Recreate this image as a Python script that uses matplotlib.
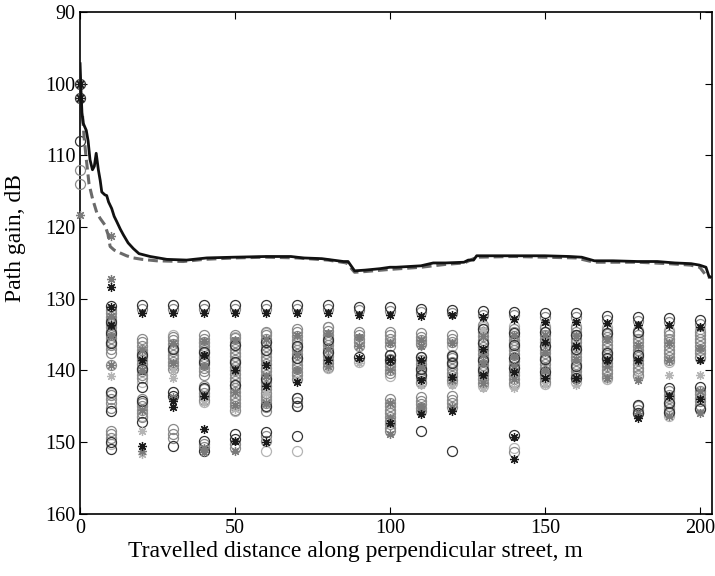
import matplotlib
matplotlib.use("Agg")
import matplotlib.pyplot as plt

# ---------------- data ----------------
black_x = [0, 0.3, 0.6, 1.0, 1.5, 2.0, 2.6, 3.2, 4.0, 4.6,
           5.2, 5.9, 6.5, 7.0, 8.0, 8.6, 9.2, 10.2, 11.0, 11.8,
           13.0, 14.0, 15.5, 17.2, 19.0, 22.6, 28, 34.4, 40.9, 49.5,
           60, 68, 72, 78, 85, 86.5, 88.6, 92, 96.8, 100,
           102, 106, 110, 114, 118, 123.9, 125.3, 127, 128, 135,
           142.9, 150, 158, 161.9, 166, 172, 180, 186.3, 192, 197.2,
           199.9, 202, 203, 204]
black_y = [97.2, 101, 104, 105.5, 106, 106.5, 108, 110.6, 112, 111.5,
           109.7, 112, 113.5, 115.1, 115.5, 115.6, 116.5, 117.4, 118.5, 119.2,
           120.3, 121.1, 122.2, 123.0, 123.7, 124.1, 124.5, 124.6, 124.3, 124.2,
           124.1, 124.1, 124.3, 124.4, 124.8, 124.8, 126.1, 126.0, 125.8, 125.6,
           125.6, 125.5, 125.4, 125.0, 125.0, 124.9, 124.6, 124.6, 124.0, 124.0,
           124.0, 124.0, 124.1, 124.2, 124.7, 124.7, 124.8, 124.8, 125.0, 125.1,
           125.3, 125.6, 126.9, 127.0]

dash_x = [0.8, 1.3, 2.0, 2.9, 4.0, 5.4, 6.5, 8.0, 9.0, 9.7,
          11.0, 12.9, 15.0, 17.2, 20, 24.7, 33.3, 40, 50, 60,
          70, 80, 86, 88.6, 92, 100, 110, 118, 124, 128,
          140, 160, 166, 180, 190, 197, 200, 202.5, 204]
dash_y = [104.5, 107.5, 110.5, 114, 116, 118, 118.8, 119.7, 121.0, 122.7,
          123.2, 123.6, 124.0, 124.3, 124.5, 124.7, 124.8, 124.5, 124.3, 124.2,
          124.3, 124.6, 125.0, 126.3, 126.2, 125.9, 125.6, 125.2, 125.0, 124.2,
          124.1, 124.3, 124.9, 124.9, 125.1, 125.3, 125.6, 127.0, 127.0]

positions = [0, 10, 20, 30, 40, 50, 60, 70, 80, 90, 100,
             110, 120, 130, 140, 150, 160, 170, 180, 190, 200]

# circles: dark / gray / light, per position
circ_dark = [
    [100, 102, 108],
    [131.0, 133.2, 134.8, 136.2, 143.0, 145.6, 150.0, 151.0],
    [130.9, 137.8, 139.8, 142.3, 144.2, 147.2],
    [130.9, 137.0, 143.0, 143.5, 150.5],
    [130.9, 137.4, 138.8, 142.4, 149.8, 151.2],
    [130.9, 136.4, 138.8, 142.0, 148.8, 149.6],
    [130.9, 136.0, 137.2, 141.2, 145.0, 148.6],
    [130.9, 136.6, 138.2, 143.8, 145.0, 149.1],
    [130.9, 135.8, 137.4],
    [131.1, 138.1],
    [131.2, 137.9, 138.6],
    [131.4, 138.1, 139.8, 140.6, 148.4],
    [131.6, 138.0, 139.0, 151.2],
    [131.7, 134.2, 136.2, 138.6, 140.0],
    [131.8, 134.8, 136.4, 138.2, 139.6, 149.0],
    [132.0, 134.6, 136.6, 138.4, 140.2],
    [132.0, 135.0, 137.0, 139.4, 141.0],
    [132.4, 134.8, 137.6, 138.2],
    [132.6, 134.6, 137.8, 144.8, 146.0],
    [132.7, 142.4, 144.6, 145.8],
    [133.0, 142.3, 145.4],
]
circ_gray = [
    [112, 114],
    [131.5, 132.0, 132.5, 133.0, 133.5, 134.0, 134.5, 135.0, 135.5, 136.0,
     136.5, 137.0, 137.5, 139.2, 143.4, 144.0, 144.6, 145.2, 148.4, 148.9,
     149.4],
    [131.4, 135.6, 136.1, 136.6, 137.1, 137.6, 138.1, 138.6, 139.1, 139.6,
     140.1, 140.6, 141.1, 144.0, 144.5, 145.0, 145.5, 146.0, 146.5],
    [131.4, 135.3, 135.8, 136.3, 136.8, 137.3, 137.8, 138.3, 138.8, 139.3,
     139.8, 148.2, 148.8, 149.4],
    [131.4, 135.1, 135.6, 136.1, 136.6, 137.1, 137.6, 138.1, 138.6, 139.1,
     139.6, 140.1, 140.6, 142.1, 142.6, 143.1, 143.6, 144.1, 150.2, 150.7],
    [131.4, 135.0, 135.5, 136.0, 136.5, 137.0, 137.5, 138.0, 138.5, 139.0,
     139.5, 140.0, 140.5, 141.0, 141.5, 142.0, 142.5, 143.0, 143.5, 144.0,
     144.5, 145.0, 145.5, 150.2, 150.8],
    [131.4, 134.6, 135.1, 135.6, 136.1, 136.6, 137.1, 137.6, 138.1, 138.6,
     139.1, 139.6, 140.1, 140.6, 141.1, 141.6, 142.1, 142.6, 143.1, 143.6,
     144.1, 144.6, 145.1, 145.6, 149.2, 149.8],
    [131.4, 134.2, 134.7, 135.2, 135.7, 136.2, 136.7, 137.2, 137.7, 138.2,
     138.7, 139.2, 139.7, 140.2, 140.7, 141.2, 143.8, 144.4, 145.0],
    [131.4, 134.0, 134.5, 135.0, 135.5, 136.0, 136.5, 137.0, 137.5, 138.0,
     138.5, 139.0, 139.5],
    [131.6, 134.6, 135.1, 135.6, 136.1, 136.6],
    [131.7, 134.6, 135.1, 135.6, 136.1, 136.6, 137.9, 138.4, 138.9, 139.4,
     139.9, 140.4, 144.0, 144.5, 145.0, 145.5, 146.0, 146.5, 147.0, 147.5,
     148.0, 148.5],
    [131.9, 134.8, 135.3, 135.8, 136.3, 138.1, 138.6, 139.1, 139.6, 140.1,
     140.6, 141.1, 141.6, 143.7, 144.2, 144.7, 145.2, 145.7],
    [132.0, 135.1, 135.6, 136.1, 137.8, 138.3, 138.8, 139.3, 139.8, 140.3,
     140.8, 141.3, 143.6, 144.1, 144.6, 145.1],
    [132.2, 133.7, 134.2, 134.7, 135.2, 135.7, 136.2, 136.7, 137.2, 137.7,
     138.2, 138.7, 139.2, 139.7, 140.2, 140.7, 141.2, 141.7],
    [132.3, 134.2, 134.7, 135.2, 135.7, 136.2, 136.7, 137.2, 137.7, 138.2,
     138.7, 139.2, 139.7, 140.2, 140.7, 141.2, 141.7, 151.4],
    [132.5, 134.1, 134.6, 135.1, 135.6, 136.1, 136.6, 137.1, 137.6, 138.1,
     138.6, 139.1, 139.6, 140.1, 140.6, 141.1, 141.6],
    [132.5, 134.1, 134.6, 135.1, 135.6, 136.1, 136.6, 137.1, 137.6, 138.1,
     138.6, 139.1, 139.6, 140.1, 140.6, 141.1],
    [132.9, 134.4, 134.9, 135.4, 135.9, 136.4, 136.9, 137.4, 137.9, 138.4,
     138.9, 139.4, 139.9, 140.4, 140.9],
    [133.1, 134.6, 135.1, 135.6, 136.1, 136.6, 137.1, 137.6, 138.1, 138.6,
     139.1, 139.6, 140.1, 140.6, 145.0, 145.5, 146.0],
    [133.2, 134.6, 135.1, 135.6, 136.1, 136.6, 137.1, 137.6, 138.1, 138.6,
     142.9, 143.4, 143.9, 144.4, 144.9, 145.4, 145.9],
    [133.5, 134.6, 135.1, 135.6, 136.1, 136.6, 137.1, 137.6, 138.1, 142.8,
     143.3, 143.8, 144.3, 144.8, 145.3],
]
circ_light = [
    [],
    [143.2, 150.2],
    [141.6, 146.4],
    [135.0],
    [136.2, 144.4],
    [135.3, 145.7],
    [134.8, 143.8, 151.2],
    [151.2],
    [133.9, 139.6],
    [138.8],
    [140.8],
    [136.0, 141.8],
    [136.6, 141.8],
    [133.9, 142.2],
    [133.8, 142.0, 150.8],
    [133.8, 141.9],
    [133.8, 141.6],
    [134.0, 141.2],
    [134.4, 140.8],
    [134.4, 138.8, 146.4],
    [134.2, 138.2],
]
# asterisks: dark / gray / light, per position
ast_dark = [
    [100, 102],
    [128.4, 131.2, 133.6],
    [132.0, 138.6, 150.6],
    [132.0, 144.2, 145.1],
    [132.0, 137.8, 143.6, 148.1],
    [132.0, 140.0, 149.8],
    [132.0, 139.2, 142.2, 150.0],
    [132.0, 141.6],
    [132.0, 138.6],
    [132.2, 138.2],
    [132.2, 138.6, 147.4],
    [132.4, 138.5, 141.4, 146.1],
    [132.2, 140.9, 145.7],
    [132.6, 137.0, 140.7],
    [132.8, 140.2, 149.3, 152.3],
    [133.2, 136.0, 141.0],
    [133.2, 136.6, 141.0],
    [133.4, 138.5],
    [133.6, 138.6, 146.6],
    [133.7, 143.6],
    [133.9, 138.6, 144.0],
]
ast_gray = [
    [118.3],
    [121.3, 127.2, 132.4, 135.2, 139.2],
    [137.2, 140.0, 145.5, 151.2],
    [136.2, 138.9, 143.7],
    [135.9, 139.4, 150.8, 151.4],
    [135.8, 143.0, 144.8, 151.2],
    [135.6, 140.8, 144.6],
    [135.0, 137.8, 140.0],
    [134.8, 137.0, 139.4],
    [135.4, 136.6],
    [136.2, 140.0, 144.6, 146.6, 148.8],
    [135.8, 136.6, 139.4, 144.9, 145.5],
    [136.2, 141.4, 145.1],
    [135.2, 137.8, 139.0, 141.8],
    [135.0, 138.0, 139.4, 141.2],
    [135.0, 137.4, 140.0],
    [135.2, 138.4, 141.4],
    [135.6, 139.4, 141.1],
    [136.4, 141.3, 145.9],
    [136.2, 138.6, 146.4],
    [136.8, 142.8, 145.9],
]
ast_light = [
    [],
    [140.8],
    [148.4, 151.6],
    [139.9, 141.0],
    [144.6],
    [145.4],
    [143.2],
    [141.4],
    [139.8],
    [139.0],
    [],
    [142.0],
    [142.0],
    [134.4, 142.4],
    [142.4],
    [142.0],
    [142.0],
    [141.4],
    [140.9],
    [140.6],
    [140.7],
]

x_ticks = [0, 50, 100, 150, 200]
y_ticks = [90, 100, 110, 120, 130, 140, 150, 160]

# ---------------- plot ----------------
plt.rcParams['font.family'] = ['Liberation Serif', 'DejaVu Serif']
fig = plt.figure(figsize=(7.15, 5.76), dpi=100)
ax = fig.add_axes([0.112, 0.108, 0.884, 0.871])

ASTER = (8, 2, 0)
ms_c = 7.2
ms_a = 6.5

def draw(groups, marker, color, ms, mew, face='none'):
    for xp, vals in zip(positions, groups):
        if not vals:
            continue
        ax.plot([xp] * len(vals), vals, linestyle='none', marker=marker,
                markersize=ms, markerfacecolor=face, markeredgecolor=color,
                markeredgewidth=mew, clip_on=False, zorder=3)

draw(circ_light, 'o', '#b4b4b4', ms_c, 0.9)
draw(circ_gray, 'o', '#8a8a8a', ms_c, 0.9)
draw(circ_dark, 'o', '#333333', ms_c, 0.9)
draw(ast_light, ASTER, '#b4b4b4', ms_a, 0.9)
draw(ast_gray, ASTER, '#7a7a7a', ms_a, 0.9)
draw(ast_dark, ASTER, '#1a1a1a', ms_a, 0.9)

ax.plot(dash_x, dash_y, color='#6a6a6a', linewidth=2.2,
        linestyle=(0, (3.2, 1.6)), zorder=4)
ax.plot(black_x, black_y, color='#111111', linewidth=2.0, zorder=5)

ax.set_xlim(0, 204)
ax.set_ylim(160, 90)
ax.set_xticks(x_ticks)
ax.set_yticks(y_ticks)
ax.tick_params(direction='in', top=True, right=True, labelsize=14.5,
               length=5, width=0.8)
for s in ax.spines.values():
    s.set_linewidth(1.2)

ax.set_xlabel('Travelled distance along perpendicular street, m', fontsize=17)
ax.set_ylabel('Path gain, dB', fontsize=17)
ax.xaxis.set_label_coords(0.435, -0.055)
ax.yaxis.set_label_coords(-0.085, 0.55)

fig.savefig('out.png', dpi=100)
